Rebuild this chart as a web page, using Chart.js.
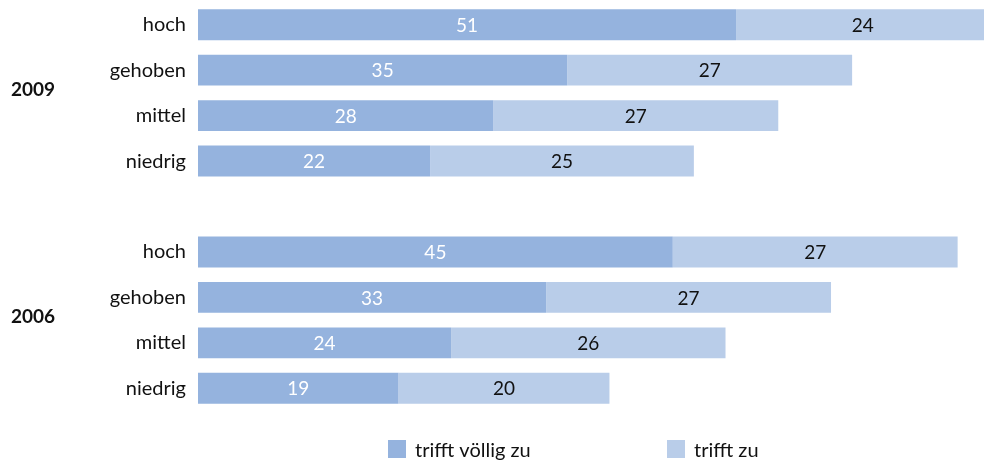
<!DOCTYPE html>
<html>
<head>
<meta charset="utf-8">
<script src="https://cdn.jsdelivr.net/npm/chart.js"></script>
<style>
  html, body { margin: 0; padding: 0; background: #fff; }
  #wrap { width: 984px; height: 466px; position: relative; }
</style>
</head>
<body>
<div id="wrap"><canvas id="chart"></canvas></div>
<script>
// Values (percent)
const levels = ['hoch', 'gehoben', 'mittel', 'niedrig'];
const years = ['2009', '2006'];
const voellig2009 = [51, 35, 28, 22];
const trifft2009 = [24, 27, 27, 25];
const voellig2006 = [45, 33, 24, 19];
const trifft2006 = [27, 27, 26, 20];
const seriesNames = ['trifft völlig zu', 'trifft zu'];
const colors = ['#95b3de', '#b9cde9'];

// one empty slot between the two year blocks
const labels = [...levels, '', ...levels];
const dataVoellig = [...voellig2009, null, ...voellig2006];
const dataTrifft = [...trifft2009, null, ...trifft2006];

const FONT = 'Lato, "Open Sans", sans-serif';

// value labels centred inside each segment
const barLabels = {
  id: 'barLabels',
  afterDatasetsDraw(chart) {
    const ctx = chart.ctx;
    ctx.save();
    ctx.font = '19px ' + FONT;
    ctx.textAlign = 'center';
    ctx.textBaseline = 'middle';
    chart.data.datasets.forEach((ds, di) => {
      chart.getDatasetMeta(di).data.forEach((bar, i) => {
        const v = ds.data[i];
        if (v == null) return;
        ctx.fillStyle = di === 0 ? '#ffffff' : '#111111';
        ctx.fillText(String(v), (bar.x + bar.base) / 2, bar.y + 1);
      });
    });
    ctx.restore();
  }
};

// bold year labels to the left of each block
const yearLabels = {
  id: 'yearLabels',
  afterDraw(chart) {
    const ctx = chart.ctx;
    const y = chart.scales.y;
    ctx.save();
    ctx.font = 'bold 19px ' + FONT;
    ctx.fillStyle = '#111111';
    ctx.textAlign = 'left';
    ctx.textBaseline = 'middle';
    years.forEach((yr, g) => {
      const first = g * (levels.length + 1);
      const mid = (y.getPixelForValue(first + 1) + y.getPixelForValue(first + 2)) / 2;
      ctx.fillText(yr, 11, mid - 3);
    });
    ctx.restore();
  }
};

// legend along the bottom
const bottomLegend = {
  id: 'bottomLegend',
  afterDraw(chart) {
    const ctx = chart.ctx;
    const xs = [388, 667];
    ctx.save();
    ctx.font = '20px ' + FONT;
    ctx.textBaseline = 'middle';
    ctx.textAlign = 'left';
    seriesNames.forEach((name, i) => {
      ctx.fillStyle = colors[i];
      ctx.fillRect(xs[i], 440, 18, 18);
      ctx.fillStyle = '#111111';
      ctx.fillText(name, xs[i] + 27, 451);
    });
    ctx.restore();
  }
};

new Chart(document.getElementById('chart'), {
  type: 'bar',
  data: {
    labels: labels,
    datasets: [
      { label: seriesNames[0], data: dataVoellig, backgroundColor: colors[0] },
      { label: seriesNames[1], data: dataTrifft, backgroundColor: colors[1] }
    ]
  },
  options: {
    indexAxis: 'y',
    responsive: true,
    maintainAspectRatio: false,
    animation: false,
    layout: { padding: { top: 2, bottom: 55, right: 0 } },
    datasets: { bar: { barPercentage: 0.68, categoryPercentage: 1 } },
    plugins: { legend: { display: false }, tooltip: { enabled: false } },
    scales: {
      x: {
        stacked: true, display: false, min: 0, max: 74.5
      },
      y: {
        stacked: true,
        grid: { display: false, drawTicks: false },
        border: { display: false },
        ticks: { color: '#111111', padding: 12, font: { family: FONT, size: 20 } },
        afterFit(scale) {
          scale.width = 198;
          scale.paddingTop = 0;
          scale.paddingBottom = 0;
        }
      }
    }
  },
  plugins: [barLabels, yearLabels, bottomLegend]
});
</script>
</body>
</html>
